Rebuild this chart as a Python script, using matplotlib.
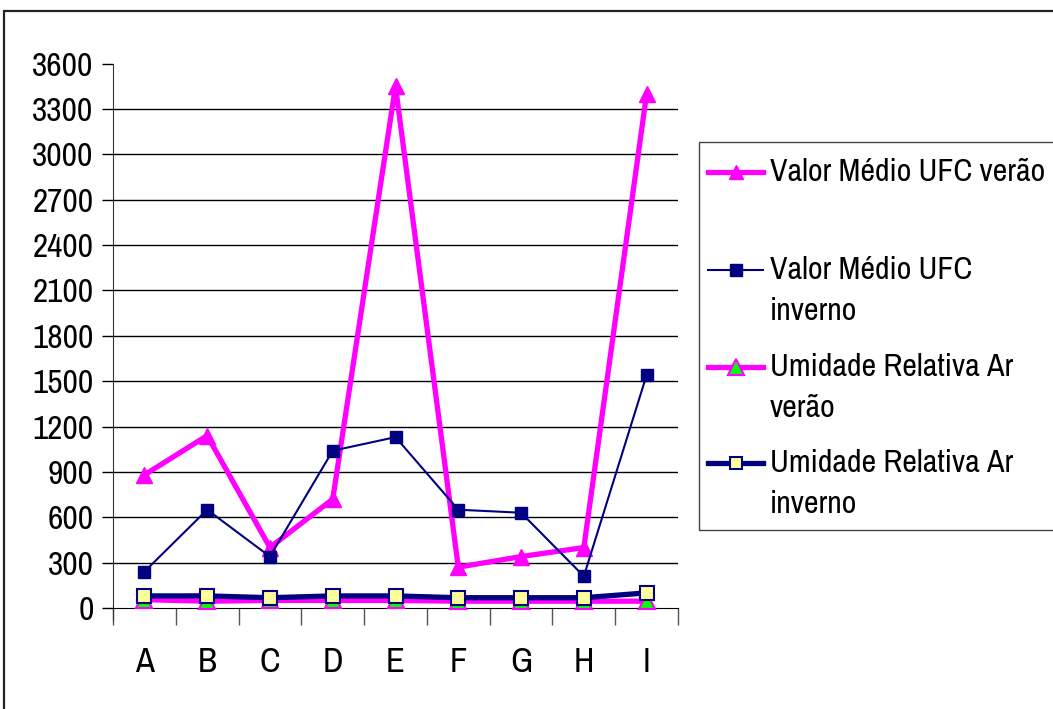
import matplotlib
matplotlib.use("Agg")
import matplotlib.pyplot as plt
from matplotlib.lines import Line2D
from matplotlib.patches import Rectangle

plt.rcParams["font.family"] = ["Archivo Narrow", "Roboto Condensed", "Liberation Sans", "DejaVu Sans"]

# data
categories = ["A", "B", "C", "D", "E", "F", "G", "H", "I"]
ufc_verao = [880, 1140, 400, 720, 3450, 270, 340, 400, 3400]
ufc_inverno = [240, 650, 340, 1040, 1130, 650, 630, 210, 1540]
umid_verao = [55, 45, 50, 50, 50, 45, 45, 45, 45]
umid_inverno = [80, 80, 68, 80, 80, 68, 68, 68, 100]
labels = ["Valor Médio UFC verão", "Valor Médio UFC\ninverno",
          "Umidade Relativa Ar\nverão", "Umidade Relativa Ar\ninverno"]
yticks = list(range(0, 3601, 300))

MAG = "#FF00FF"
NAVY = "#000080"

W, H = 1053, 709
fig = plt.figure(figsize=(W / 100, H / 100), dpi=100)
ax = fig.add_axes([113 / W, 1 - 608 / H, (678 - 113) / W, (608 - 63.6) / H])

x = list(range(len(categories)))
styles = [
    dict(color=MAG, lw=3.8, marker="^", ms=11, mfc=MAG, mec=MAG),
    dict(color=NAVY, lw=1.5, marker="s", ms=9, mfc=NAVY, mec=NAVY),
    dict(color=MAG, lw=3.8, marker="^", ms=12, mfc="#00FF00", mec=MAG, mew=1.5),
    dict(color=NAVY, lw=3.8, marker="s", ms=10, mfc="#FFFF99", mec=NAVY, mew=1.5),
]
for ys, st in zip([ufc_verao, ufc_inverno, umid_verao, umid_inverno], styles):
    ax.plot(x, ys, zorder=3, clip_on=False, **st)

ax.set_xlim(-0.5, len(categories) - 0.5)
ax.set_ylim(0, 3600)
ax.set_yticks(yticks)
ax.tick_params(axis="y", length=8, width=1, labelsize=24, pad=6)
ax.set_xticks(x)
ax.set_xticklabels(categories)
ax.tick_params(axis="x", which="major", length=0, labelsize=25, pad=27)
ax.set_xticks([i - 0.5 for i in range(len(categories) + 1)], minor=True)
ax.tick_params(axis="x", which="minor", length=12, width=1, color="#555555")
for s in ["top", "right"]:
    ax.spines[s].set_visible(False)
ax.spines["left"].set_color("#333333")
ax.spines["bottom"].set_color("black")
ax.spines["left"].set_bounds(-80, 3600)
for yv in yticks[1:-1]:
    ax.axhline(yv, color="black", lw=1, zorder=1)

# outer chart border
fig.add_artist(Rectangle((4 / W, -0.1), 1.2, 1 - 11 / H + 0.1, transform=fig.transFigure,
                         fill=False, ec="#222222", lw=1.6))

# legend box, drawn by hand to match the layout
fig.add_artist(Rectangle((699 / W, 1 - 530 / H), 1.0, (530 - 142) / H, transform=fig.transFigure,
                         fill=False, ec="#444444", lw=1))
rows = [172, 270, 367, 463]
for (lab, st, yr) in zip(labels, styles, rows):
    yf = 1 - yr / H
    fig.add_artist(Line2D([708 / W, 763 / W], [yf, yf], transform=fig.transFigure,
                          color=st["color"], lw=st["lw"]))
    fig.add_artist(Line2D([735.5 / W], [yf], transform=fig.transFigure, ls="",
                          marker=st["marker"], ms=st["ms"] - 1, mfc=st["mfc"], mec=st["mec"],
                          mew=st.get("mew", 1)))
    fig.text(770 / W, yf + 14 / H, lab, ha="left", va="top", fontsize=23, linespacing=1.55,
             transform=fig.transFigure)

fig.savefig("out.png", dpi=100)
